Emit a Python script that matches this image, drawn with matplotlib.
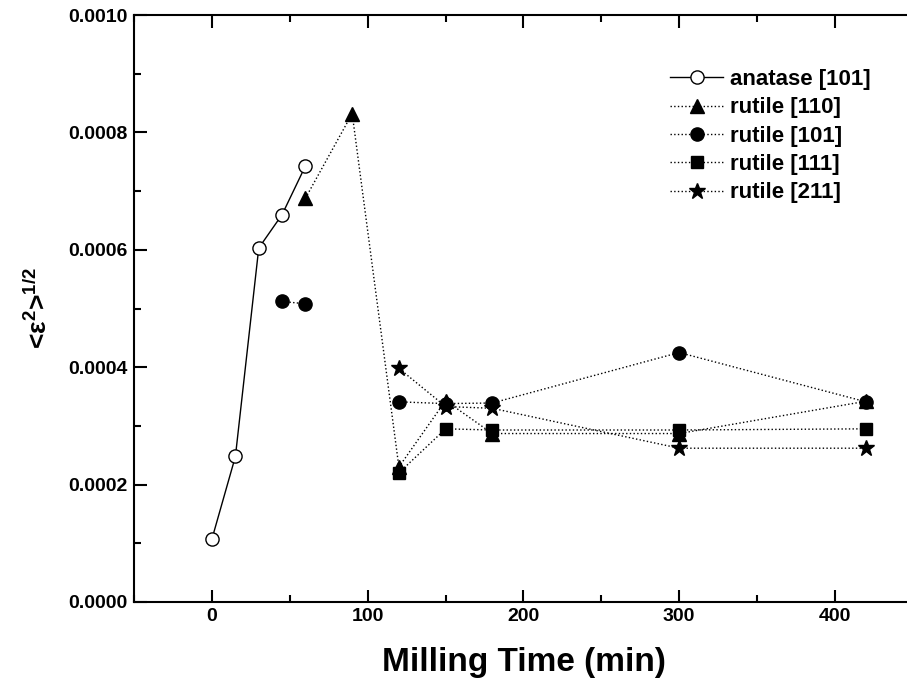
import numpy as np
import matplotlib
matplotlib.use("Agg")
import matplotlib.pyplot as plt
from matplotlib.ticker import MultipleLocator, FormatStrFormatter

plt.rcParams['font.family'] = ['Liberation Sans', 'DejaVu Sans']
plt.rcParams['font.weight'] = 'bold'
plt.rcParams['mathtext.default'] = 'regular'

nan = np.nan
anatase_t = [0, 15, 30, 45, 60]
anatase_101 = [0.000108, 0.000248, 0.000603, 0.000660, 0.000743]

rutile_t = [45, 60, 90, 120, 150, 180, 300, 420]
rutile_110 = [nan, 0.000688, 0.000832, 0.000230, 0.000343, 0.000287, 0.000287, 0.000342]
rutile_101 = [0.000512, 0.000508, nan, 0.000341, 0.000338, 0.000339, 0.000425, 0.000341]
rutile_111 = [nan, nan, nan, 0.000220, 0.000295, 0.000293, 0.000293, 0.000295]
rutile_211 = [nan, nan, nan, 0.000398, 0.000333, 0.000330, 0.000262, 0.000262]

labels = ['anatase [101]', 'rutile [110]', 'rutile [101]', 'rutile [111]', 'rutile [211]']

fig = plt.figure(figsize=(9.07, 6.81), dpi=100)
ax = fig.add_axes([134.2 / 907, 1 - 602 / 681, 778.5 / 907, 587 / 681])

ax.plot(anatase_t, anatase_101, '-', color='black', lw=1.0, marker='o',
        markerfacecolor='white', markeredgecolor='black', markersize=9.5, label=labels[0])
ax.plot(rutile_t, rutile_110, ':', color='black', lw=1.0, marker='^', markersize=10, label=labels[1])
ax.plot(rutile_t, rutile_101, ':', color='black', lw=1.0, marker='o', markersize=9.5, label=labels[2])
ax.plot(rutile_t, rutile_111, ':', color='black', lw=1.0, marker='s', markersize=8, label=labels[3])
ax.plot(rutile_t, rutile_211, ':', color='black', lw=1.0, marker='*', markersize=12, label=labels[4])

ax.set_xlim(-50, 450)
ax.set_ylim(0, 0.0010)
ax.xaxis.set_major_locator(MultipleLocator(100))
ax.xaxis.set_minor_locator(MultipleLocator(50))
ax.yaxis.set_major_locator(MultipleLocator(0.0002))
ax.yaxis.set_minor_locator(MultipleLocator(0.0001))
ax.yaxis.set_major_formatter(FormatStrFormatter('%.4f'))
ax.tick_params(which='both', direction='in', top=True, right=False, width=1.5)
ax.tick_params(which='major', length=9, labelsize=14, pad=4.5)
ax.tick_params(which='minor', length=5)
ax.spines['right'].set_visible(False)
for s in ax.spines.values():
    s.set_linewidth(1.5)
for lab in ax.get_xticklabels() + ax.get_yticklabels():
    lab.set_fontweight('bold')

ax.set_xlabel('Milling Time (min)', fontsize=24, fontweight='bold', labelpad=16)
ax.set_ylabel('<ε$^{2}$>$^{1/2}$', fontsize=19, fontweight='bold', labelpad=12)

leg = ax.legend(loc='upper left', bbox_to_anchor=((670 - 134.2) / 778.5, 1 - (69 - 15) / 587),
                frameon=False, fontsize=16, handlelength=2.4, handletextpad=0.3,
                labelspacing=0.33, borderaxespad=0, borderpad=0)
for t in leg.get_texts():
    t.set_fontweight('bold')

fig.savefig('out.png', dpi=100)
